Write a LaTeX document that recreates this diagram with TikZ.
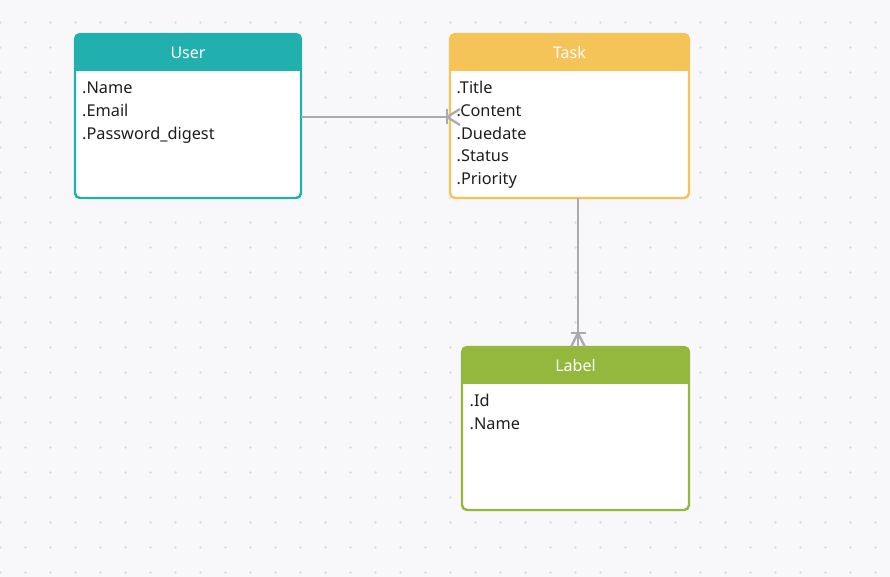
\documentclass[tikz,border=0pt]{standalone}
\usepackage{fontspec}
\setmainfont{Noto Sans}
\definecolor{bgc}{HTML}{F8F8FA}
\definecolor{dotc}{HTML}{DCDCE1}
\definecolor{ucol}{HTML}{22B0AE}
\definecolor{tcol}{HTML}{F5C459}
\definecolor{lcol}{HTML}{94B83E}
\definecolor{conc}{HTML}{ABABAB}
\definecolor{txtc}{HTML}{1E1E1E}
\begin{document}
\begin{tikzpicture}[x=1pt,y=-1pt,
 body/.style={fill=white, inner sep=0pt, outer sep=0pt},
 frame/.style={draw=#1, line width=2.4pt, rounded corners=5pt},
 htext/.style={text=white, font=\fontsize{16}{18}\selectfont, inner sep=0pt, anchor=base},
 field/.style={text=txtc, font=\fontsize{16.3}{18}\selectfont, inner sep=0pt, anchor=base west},
 conn/.style={draw=conc, line width=2.3pt},
]
\fill[bgc] (0,0) rectangle (890,577);
\useasboundingbox (0,0) rectangle (890,577);
\foreach \i in {0,...,35}{\foreach \j in {0,...,22}{\fill[dotc] (\i*25+0.5,\j*25+22.5) circle (1.4pt);}}

% User
\node[body, minimum width=226pt, minimum height=164pt] (user) at (188,116) {};
\begin{scope}
\clip[rounded corners=5pt] (user.south west) rectangle (user.north east);
\fill[ucol] (user.north west) rectangle ([yshift=-37pt]user.north east);
\end{scope}
\draw[frame=ucol] (user.south west) rectangle (user.north east);
\node[htext] (userh) at (188,59) {User};
\node[field] (user1) at (82,94) {.Name};
\node[field] (user2) at (82,116.7) {.Email};
\node[field] (user3) at (82,139.3) {.Password\_digest};

% Task
\node[body, minimum width=239pt, minimum height=164pt] (task) at (569.5,116) {};
\begin{scope}
\clip[rounded corners=5pt] (task.south west) rectangle (task.north east);
\fill[tcol] (task.north west) rectangle ([yshift=-37pt]task.north east);
\end{scope}
\draw[frame=tcol] (task.south west) rectangle (task.north east);
\node[htext] (taskh) at (569.5,59) {Task};
\node[field] (task1) at (456.5,94) {.Title};
\node[field] (task2) at (456.5,116.7) {.Content};
\node[field] (task3) at (456.5,139.3) {.Duedate};
\node[field] (task4) at (456.5,162) {.Status};
\node[field] (task5) at (456.5,184.7) {.Priority};

% Label
\node[body, minimum width=227pt, minimum height=163pt] (label) at (575.5,428.5) {};
\begin{scope}
\clip[rounded corners=5pt] (label.south west) rectangle (label.north east);
\fill[lcol] (label.north west) rectangle ([yshift=-37pt]label.north east);
\end{scope}
\draw[frame=lcol] (label.south west) rectangle (label.north east);
\node[htext] (labelh) at (575.5,371.7) {Label};
\node[field] (label1) at (469.5,406.7) {.Id};
\node[field] (label2) at (469.5,429.3) {.Name};

% Connector User -> Task
\draw[conn] ([yshift=-1pt]user.east) -- ([yshift=-1pt]task.west);
\coordinate (c1) at ([xshift=-3pt,yshift=-1pt]task.west);
\draw[conn] ([yshift=7.5pt]c1) -- ([yshift=-7.5pt]c1);
\draw[conn] (c1) -- ([xshift=13pt,yshift=8pt]c1);
\draw[conn] (c1) -- ([xshift=13pt,yshift=-8pt]c1);

% Connector Task -> Label
\coordinate (t2) at ([xshift=8.5pt]task.south);
\coordinate (l2) at ([xshift=2.5pt]label.north);
\draw[conn] (t2) -- (l2);
\coordinate (c2) at ([yshift=14pt]l2);
\draw[conn] ([xshift=-7.5pt]c2) -- ([xshift=7.5pt]c2);
\draw[conn] (c2) -- ([xshift=-7pt]l2);
\draw[conn] (c2) -- ([xshift=7pt]l2);
\end{tikzpicture}
\end{document}
